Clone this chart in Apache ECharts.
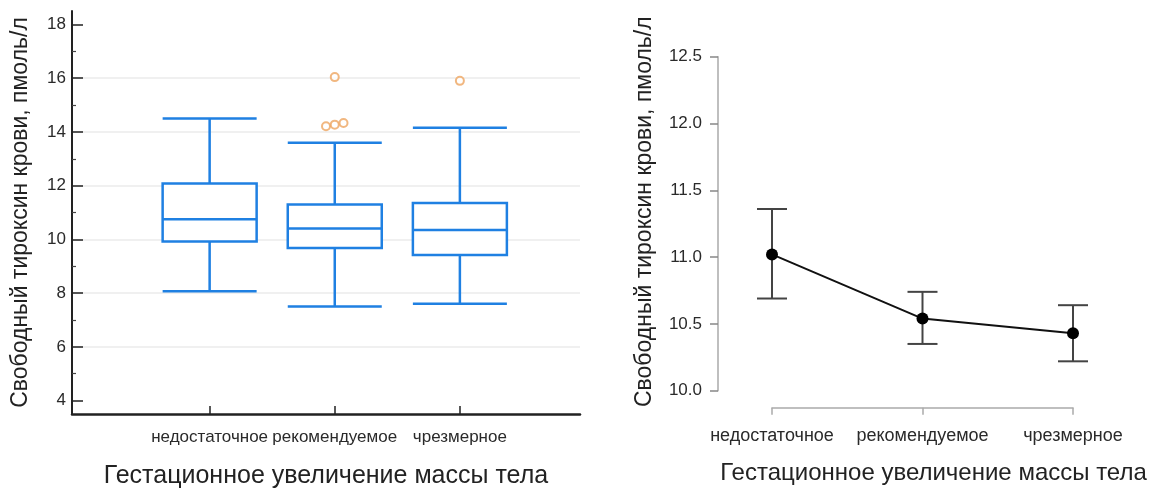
<!DOCTYPE html>
<html><head><meta charset="utf-8">
<script src="https://cdn.jsdelivr.net/npm/echarts@6/dist/echarts.min.js"></script>
<style>html,body{margin:0;padding:0;background:#fff}#c{width:1149px;height:488px}</style>
</head><body><div id="c"></div>
<script>
const categories = ['недостаточное', 'рекомендуемое', 'чрезмерное'];
const groupPositions = [1, 2, 3];
// Left panel: box plot
const boxMin = [8.07, 7.5, 7.6];
const boxQ1 = [9.92, 9.68, 9.42];
const boxMedian = [10.75, 10.4, 10.35];
const boxQ3 = [12.08, 11.3, 11.35];
const boxMax = [14.5, 13.6, 14.15];
const outlierX = [1.93, 2.0, 2.07, 2.0, 3.0];
const outlierY = [14.21, 14.27, 14.33, 16.04, 15.9];
const leftYTicks = [4, 6, 8, 10, 12, 14, 16, 18];
const leftYMinorTicks = [5, 7, 9, 11, 13, 15, 17];
// Right panel: means with error bars
const meanValues = [11.02, 10.54, 10.43];
const ciLower = [10.69, 10.35, 10.22];
const ciUpper = [11.36, 10.74, 10.64];
const yTitle = 'Свободный тироксин крови, пмоль/л';
const xTitle = 'Гестационное увеличение массы тела';

const FONT = "'Liberation Sans', Arial, sans-serif";
const BLUE = '#1f80e2';
const chart = echarts.init(document.getElementById('c'), null, {renderer: 'canvas'});

const boxData = groupPositions.map((x, i) => [x, boxMin[i], boxQ1[i], boxMedian[i], boxQ3[i], boxMax[i]]);
const outlierData = outlierX.map((x, i) => [x, outlierY[i]]);
const meanData = groupPositions.map((x, i) => [x, meanValues[i]]);
const errData = groupPositions.map((x, i) => [x, ciLower[i], ciUpper[i]]);
const catLabel = v => categories[Math.round(v) - 1] || '';

const option = {
  animation: false,
  backgroundColor: '#fff',
  textStyle: {fontFamily: FONT},
  grid: [
    {left: 72, right: 569, top: 11, bottom: 74, outerBoundsMode: 'none', containLabel: false},
    {left: 772, right: 76, top: 56.7, bottom: 97.3, outerBoundsMode: 'none', containLabel: false}
  ],
  xAxis: [
    {
      gridIndex: 0, type: 'value', min: -0.1, max: 3.96,
      axisLine: {show: true, onZero: false, lineStyle: {color: '#222', width: 2.5}},
      axisTick: {show: true, customValues: groupPositions, inside: true, length: 8, lineStyle: {color: '#222', width: 1.5}},
      axisLabel: {customValues: groupPositions, formatter: catLabel, fontSize: 17, color: '#2a2a2a', margin: 15,
        fontFamily: FONT, showMinLabel: true, showMaxLabel: true, hideOverlap: false, interval: 0},
      splitLine: {show: false},
      name: xTitle, nameLocation: 'middle', nameGap: 50,
      nameTextStyle: {fontSize: 25, color: '#222', fontFamily: FONT}
    },
    {
      gridIndex: 1, type: 'value', min: 1, max: 3, interval: 1, offset: 17,
      axisLine: {show: true, onZero: false, lineStyle: {color: '#aaa', width: 1.5}},
      axisTick: {show: true, length: 7, lineStyle: {color: '#aaa', width: 1.5}},
      axisLabel: {formatter: catLabel, fontSize: 18, color: '#2a2a2a', margin: 19, fontFamily: FONT,
        showMinLabel: true, showMaxLabel: true, hideOverlap: false},
      splitLine: {show: false},
      name: xTitle, nameLocation: 'middle', nameGap: 54,
      nameTextStyle: {fontSize: 24, color: '#222', fontFamily: FONT, padding: [0, 0, 0, 22]}
    }
  ],
  yAxis: [
    {
      gridIndex: 0, type: 'value', min: 3.5, max: 18.5, position: 'left', splitNumber: 7,
      axisLine: {show: true, onZero: false, lineStyle: {color: '#222', width: 2}},
      axisTick: {show: true, customValues: leftYTicks, inside: true, length: 11, lineStyle: {color: '#222', width: 1.5}},
      axisLabel: {customValues: leftYTicks, fontSize: 17, color: '#2a2a2a', margin: 6, fontFamily: FONT},
      splitLine: {show: true, showMinLine: false, showMaxLine: false, lineStyle: {color: '#ebebeb', width: 1.5}},
      name: yTitle, nameLocation: 'middle', nameGap: 40,
      nameTextStyle: {fontSize: 23, color: '#222', fontFamily: FONT}
    },
    {
      gridIndex: 0, type: 'value', min: 3.5, max: 18.5, position: 'left', offset: 0,
      axisLine: {show: false, onZero: false},
      axisTick: {show: true, customValues: leftYMinorTicks, inside: true, length: 4, lineStyle: {color: '#444', width: 1.2}},
      axisLabel: {show: false},
      splitLine: {show: false}
    },
    {
      gridIndex: 1, type: 'value', min: 10, max: 12.5, interval: 0.5, offset: 54,
      axisLine: {show: true, onZero: false, lineStyle: {color: '#aaa', width: 1.5}},
      axisTick: {show: true, length: 8, lineStyle: {color: '#888', width: 1.5}},
      axisLabel: {formatter: v => v.toFixed(1), fontSize: 17, color: '#2a2a2a', margin: 16, fontFamily: FONT},
      splitLine: {show: false},
      name: yTitle, nameLocation: 'middle', nameGap: 62,
      nameTextStyle: {fontSize: 23, color: '#222', fontFamily: FONT, padding: [0, 0, 0, 24]}
    }
  ],
  series: [
    {
      type: 'boxplot', xAxisIndex: 0, yAxisIndex: 0,
      data: boxData, boxWidth: [94, 94],
      itemStyle: {color: '#fff', borderColor: BLUE, borderWidth: 2.5}
    },
    {
      type: 'scatter', xAxisIndex: 0, yAxisIndex: 0,
      data: outlierData, symbol: 'emptyCircle', symbolSize: 8,
      itemStyle: {color: '#eea560', borderWidth: 1.5}
    },
    {
      type: 'custom', xAxisIndex: 1, yAxisIndex: 2,
      data: errData, encode: {x: 0, y: [1, 2]},
      renderItem: function (params, api) {
        const x = api.value(0);
        const lo = api.coord([x, api.value(1)]);
        const hi = api.coord([x, api.value(2)]);
        const hw = 15;
        const style = {stroke: '#444', lineWidth: 2};
        return {type: 'group', children: [
          {type: 'line', shape: {x1: lo[0], y1: lo[1], x2: hi[0], y2: hi[1]}, style: style},
          {type: 'line', shape: {x1: lo[0] - hw, y1: lo[1], x2: lo[0] + hw, y2: lo[1]}, style: style},
          {type: 'line', shape: {x1: hi[0] - hw, y1: hi[1], x2: hi[0] + hw, y2: hi[1]}, style: style}
        ]};
      },
      z: 2
    },
    {
      type: 'line', xAxisIndex: 1, yAxisIndex: 2,
      data: meanData, symbol: 'circle', symbolSize: 12,
      lineStyle: {color: '#111', width: 2},
      itemStyle: {color: '#000'},
      z: 3
    }
  ]
};
chart.setOption(option);
</script>
</body></html>
